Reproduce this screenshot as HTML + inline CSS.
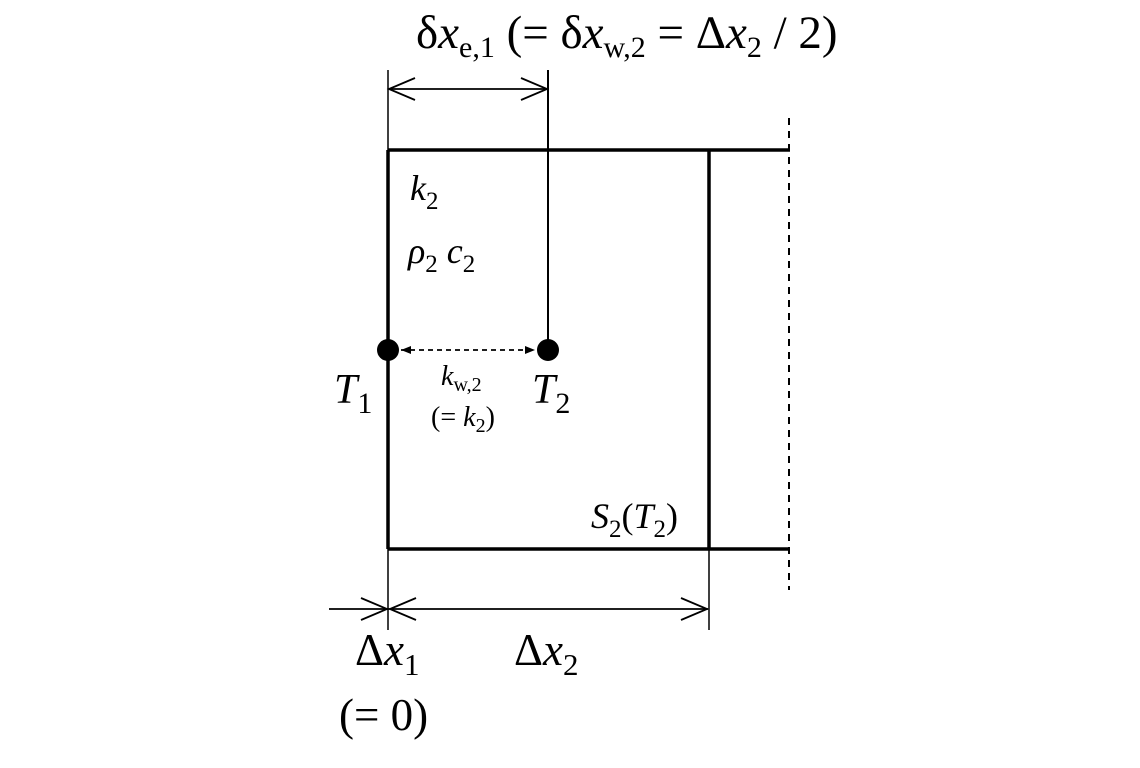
<!DOCTYPE html>
<html><head><meta charset="utf-8"><style>
html,body{margin:0;padding:0;background:#fff;}
svg{display:block;}
text{font-family:"Liberation Serif","DejaVu Serif",serif;}
</style></head><body>
<svg width="1140" height="768" viewBox="0 0 1140 768" xmlns="http://www.w3.org/2000/svg">
<defs>
<marker id="f" viewBox="0 0 10 10" refX="10" refY="5" markerWidth="10" markerHeight="10" orient="auto-start-reverse" markerUnits="userSpaceOnUse"><path d="M0,1 L10,5 L0,9 Z" fill="#000"/></marker>
</defs>
<g stroke="#000" fill="none">
<path d="M388,150 H790 M388,549 H790 M388,150 V549 M709,150 V549" stroke-width="3.5"/>
<line x1="789" y1="118" x2="789" y2="590" stroke-width="2" stroke-dasharray="7,6"/>
<line x1="388" y1="70" x2="388" y2="150" stroke-width="1.5"/>
<line x1="548" y1="70" x2="548" y2="350" stroke-width="2"/>
<line x1="389" y1="89" x2="547" y2="89" stroke-width="1.8"/>
<path d="M415,78 L389,89 L415,100 M521,78 L547,89 L521,100" stroke-width="1.8"/>
<line x1="388" y1="549" x2="388" y2="630" stroke-width="1.5"/>
<line x1="709" y1="549" x2="709" y2="630" stroke-width="1.5"/>
<line x1="329" y1="609" x2="708" y2="609" stroke-width="1.8"/>
<path d="M361,598 L387,609 L361,620 M416,598 L390,609 L416,620 M681,598 L707,609 L681,620" stroke-width="1.8"/>
<line x1="401" y1="350" x2="535" y2="350" stroke-width="1.8" stroke-dasharray="5,4" marker-start="url(#f)" marker-end="url(#f)"/>
</g>
<circle cx="388" cy="350" r="11" fill="#000"/>
<circle cx="548" cy="350" r="11" fill="#000"/>
<g fill="#000" font-family="Liberation Serif, DejaVu Serif, serif">
<text x="416" y="48" font-size="47">δ<tspan font-style="italic">x</tspan><tspan font-size="30" dy="9">e,1</tspan><tspan dy="-9"> (= δ</tspan><tspan font-style="italic">x</tspan><tspan font-size="30" dy="9">w,2</tspan><tspan dy="-9"> = Δ</tspan><tspan font-style="italic">x</tspan><tspan font-size="30" dy="9">2</tspan><tspan dy="-9"> / 2)</tspan></text>
<text x="410" y="200" font-size="36"><tspan font-style="italic">k</tspan><tspan font-size="25" dy="9">2</tspan></text>
<text x="408" y="263" font-size="36"><tspan font-style="italic">ρ</tspan><tspan font-size="25" dy="9">2</tspan><tspan dy="-9"> </tspan><tspan font-style="italic">c</tspan><tspan font-size="25" dy="9">2</tspan></text>
<text x="334" y="403" font-size="42"><tspan font-style="italic">T</tspan><tspan font-size="30" dy="10">1</tspan></text>
<text x="532" y="403" font-size="42"><tspan font-style="italic">T</tspan><tspan font-size="30" dy="10">2</tspan></text>
<text x="441" y="385" font-size="28"><tspan font-style="italic">k</tspan><tspan font-size="20" dy="6">w,2</tspan></text>
<text x="431" y="426" font-size="28">(= <tspan font-style="italic">k</tspan><tspan font-size="20" dy="6">2</tspan><tspan dy="-6">)</tspan></text>
<text x="591" y="528" font-size="36"><tspan font-style="italic">S</tspan><tspan font-size="25" dy="9">2</tspan><tspan dy="-9">(</tspan><tspan font-style="italic">T</tspan><tspan font-size="25" dy="9">2</tspan><tspan dy="-9">)</tspan></text>
<text x="355" y="665" font-size="45">Δ<tspan font-style="italic">x</tspan><tspan font-size="31" dy="10">1</tspan></text>
<text x="514" y="665" font-size="45">Δ<tspan font-style="italic">x</tspan><tspan font-size="31" dy="10">2</tspan></text>
<text x="339" y="730" font-size="45">(= 0)</text>
</g>
</svg>
</body></html>
